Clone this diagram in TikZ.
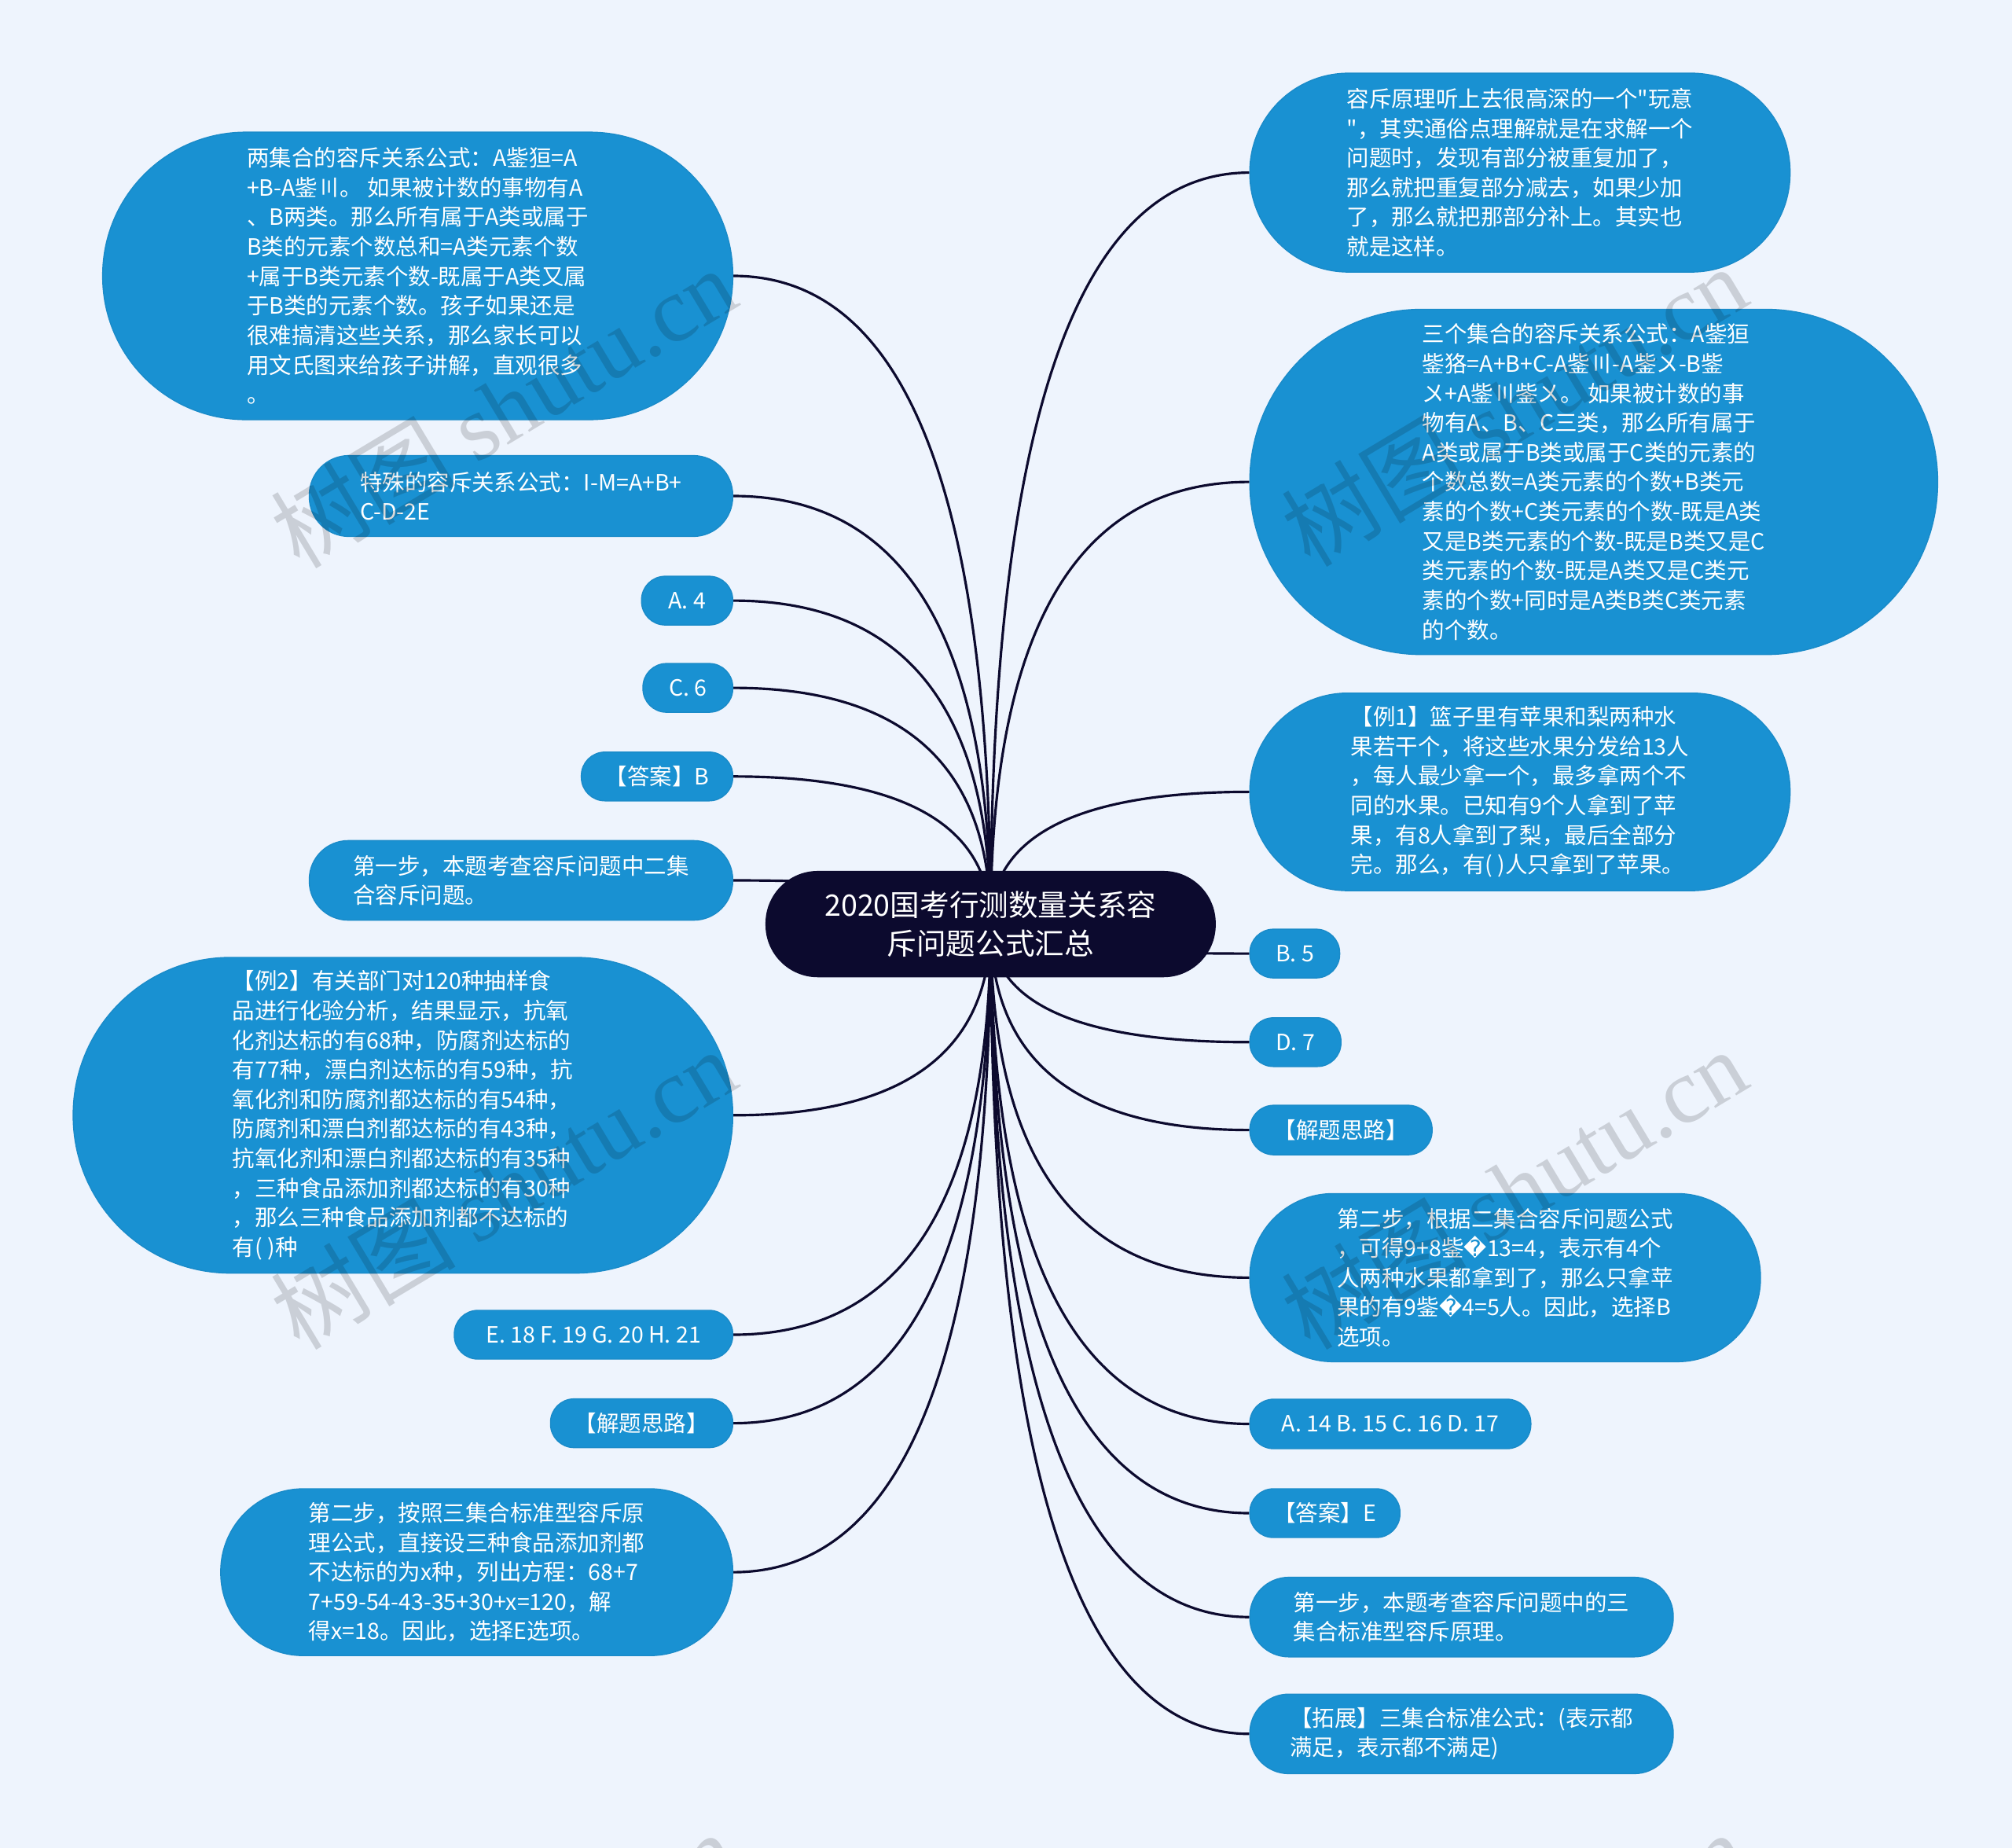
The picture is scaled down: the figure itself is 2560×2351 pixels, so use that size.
\documentclass[tikz,border=0pt]{standalone}
\usepackage{fontspec}
\setmainfont{Noto Sans CJK SC}
\newfontfamily\qfont{Noto Sans CJK SC}[Ligatures=TeXOff]
\newfontfamily\dvfont{DejaVu Sans}
\newfontfamily\wmserif{Liberation Serif}
\usetikzlibrary{calc,backgrounds}
\definecolor{bgc}{HTML}{EEF4FD}
\definecolor{nodeblue}{HTML}{1991D2}
\definecolor{nodeedge}{HTML}{1A8BC9}
\definecolor{navy}{HTML}{0C0A2E}
\newcommand{\bodyfont}{\fontsize{8.1pt}{10.7pt}\selectfont}
\newcommand{\titlefont}{\fontsize{10.7pt}{13.9pt}\selectfont}
\newcommand{\wmfont}{\fontsize{33.5pt}{38pt}\selectfont}
\newcommand{\rpl}{{\dvfont\char"FFFD}}
\newcommand{\dq}{{\qfont\char"22}}
\newcommand{\lnk}[2]{\draw[conn] (ctr.center) .. controls ($(ctr.center)!0.6667!(ctr.center |- #1.#2)$) and ($(#1.#2)!0.6667!(ctr.center |- #1.#2)$) .. (#1.#2);}
\tikzset{
  pill/.style 2 args={rectangle, fill=nodeblue, draw=nodeedge, line width=0.4pt,
    text=white, minimum width=#1*0.01cm, minimum height=#2*0.01cm,
    rounded corners=#2*0.005cm-0.3pt, inner sep=0pt, align=left, font=\bodyfont},
  rootbox/.style 2 args={rectangle, fill=navy, draw=navy, text=white,
    minimum width=#1*0.01cm, minimum height=#2*0.01cm,
    rounded corners=#2*0.005cm-0.3pt, inner sep=0pt, align=center, font=\titlefont},
  conn/.style={draw=navy, line width=0.9pt},
  wm/.style={text=black, opacity=0.15, font=\wmfont, inner sep=0pt}
}
\begin{document}
\begin{tikzpicture}[x=0.01cm, y=-0.01cm]
\useasboundingbox (0,0) rectangle (2560,2351);
\clip (0,0) rectangle (2560,2351);

\node[rootbox={571.5}{133.9}] (ctr) at (1260.4,1175.6) {2020国考行测数量关系容\\斥问题公式汇总};

% left side
\node[pill={801.7}{365.7}] (L1) at (531.5,351.0) {两集合的容斥关系公式：A鈭狟=A\\+B-A鈭〣。 如果被计数的事物有A\\、B两类。那么所有属于A类或属于\\B类的元素个数总和=A类元素个数\\+属于B类元素个数-既属于A类又属\\于B类的元素个数。孩子如果还是\\很难搞清这些关系，那么家长可以\\用文氏图来给孩子讲解，直观很多\\。};
\node[pill={538.8}{102.9}] (L2) at (662.9,631.0) {特殊的容斥关系公式：I-M=A+B+\\C-D-2E};
\node[pill={116}{62}] (L3) at (874.3,764.1) {A. 4};
\node[pill={114.3}{62}] (L4) at (875.2,875.1) {C. 6};
\node[pill={192.7}{62}] (L5) at (836.0,987.8) {【答案】B};
\node[pill={538.8}{101.2}] (L6) at (662.9,1120.0) {第一步，本题考查容斥问题中二集\\合容斥问题。};
\node[pill={839.2}{401.6}] (L7) at (512.7,1418.8) {【例2】有关部门对120种抽样食\\品进行化验分析，结果显示，抗氧\\化剂达标的有68种，防腐剂达标的\\有77种，漂白剂达标的有59种，抗\\氧化剂和防腐剂都达标的有54种，\\防腐剂和漂白剂都达标的有43种，\\抗氧化剂和漂白剂都达标的有35种\\，三种食品添加剂都达标的有30种\\，那么三种食品添加剂都不达标的\\有( )种};
\node[pill={354.3}{62}] (L8) at (755.2,1698.0) {E. 18 F. 19 G. 20 H. 21};
\node[pill={231.9}{62}] (L9) at (816.4,1810.6) {【解题思路】};
\node[pill={651.5}{212.2}] (L10) at (606.6,2000.1) {第二步，按照三集合标准型容斥原\\理公式，直接设三种食品添加剂都\\不达标的为x种，列出方程：68+7\\7+59-54-43-35+30+x=120，解\\得x=18。因此，选择E选项。};

% right side
\node[pill={687.4}{253}] (R1) at (1933.9,219.6) {容斥原理听上去很高深的一个\dq 玩意\\\dq ，其实通俗点理解就是在求解一个\\问题时，发现有部分被重复加了，\\那么就把重复部分减去，如果少加\\了，那么就把那部分补上。其实也\\就是这样。};
\node[pill={875.2}{439.2}] (R2) at (2027.8,613.1) {三个集合的容斥关系公式：A鈭狟\\鈭狢=A+B+C-A鈭〣-A鈭〤-B鈭\\〤+A鈭〣鈭〤。 如果被计数的事\\物有A、B、C三类，那么所有属于\\A类或属于B类或属于C类的元素的\\个数总数=A类元素的个数+B类元\\素的个数+C类元素的个数-既是A类\\又是B类元素的个数-既是B类又是C\\类元素的个数-既是A类又是C类元\\素的个数+同时是A类B类C类元素\\的个数。};
\node[pill={687.4}{251.4}] (R3) at (1933.9,1007.4) {【例1】篮子里有苹果和梨两种水\\果若干个，将这些水果分发给13人\\，每人最少拿一个，最多拿两个不\\同的水果。已知有9个人拿到了苹\\果，有8人拿到了梨，最后全部分\\完。那么，有( )人只拿到了苹果。};
\node[pill={114.3}{62}] (R4) at (1647.4,1213.1) {B. 5};
\node[pill={116}{62}] (R5) at (1648.2,1325.8) {D. 7};
\node[pill={231.9}{63}] (R6) at (1706.2,1437.6) {【解题思路】};
\node[pill={649.8}{213.9}] (R7) at (1915.1,1625.4) {第二步，根据二集合容斥问题公式\\，可得9+8鈭\rpl13=4，表示有4个\\人两种水果都拿到了，那么只拿苹\\果的有9鈭\rpl4=5人。因此，选择B\\选项。};
\node[pill={357.6}{63}] (R8) at (1769.0,1811.5) {A. 14 B. 15 C. 16 D. 17};
\node[pill={191.1}{62}] (R9) at (1685.7,1925.0) {【答案】E};
\node[pill={538.8}{101.2}] (R10) at (1859.6,2057.2) {第一步，本题考查容斥问题中的三\\集合标准型容斥原理。};
\node[pill={538.8}{101.2}] (R11) at (1859.6,2205.8) {【拓展】三集合标准公式：(表示都\\满足，表示都不满足)};

\begin{pgfonlayer}{background}
\fill[bgc] (0,0) rectangle (2560,2351);
\foreach \n in {L1,L2,L3,L4,L5,L6,L7,L8,L9,L10}{\lnk{\n}{east}}
\foreach \n in {R1,R2,R3,R4,R5,R6,R7,R8,R9,R10,R11}{\lnk{\n}{west}}
\end{pgfonlayer}

% watermark
\node[wm, rotate=31] (w1) at (640,518) {树图 {\wmserif shutu.cn}};
\node[wm, rotate=31] (w2) at (1926,516) {树图 {\wmserif shutu.cn}};
\node[wm, rotate=31] (w3) at (640,1512) {树图 {\wmserif shutu.cn}};
\node[wm, rotate=31] (w4) at (1926,1512) {树图 {\wmserif shutu.cn}};
\node[wm, rotate=31] (w5) at (640,2508) {树图 {\wmserif shutu.cn}};
\node[wm, rotate=31] (w6) at (1926,2508) {树图 {\wmserif shutu.cn}};
\end{tikzpicture}
\end{document}
